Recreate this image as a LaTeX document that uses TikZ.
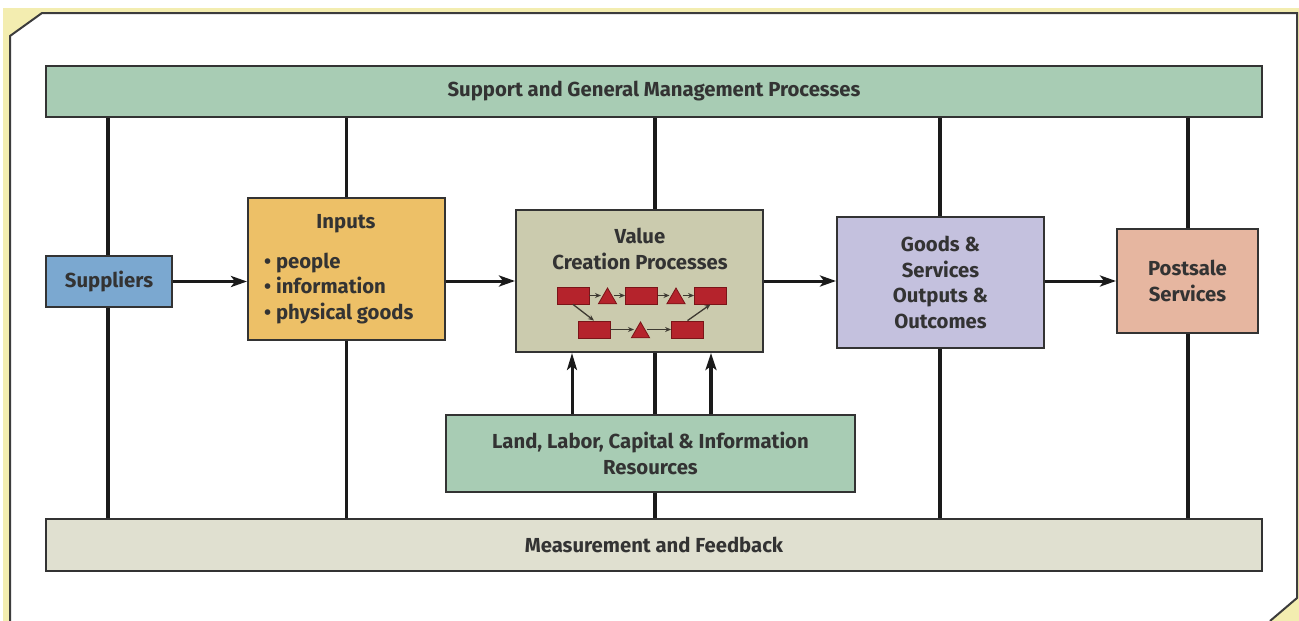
\documentclass[tikz,border=0pt]{standalone}
\usepackage{fontspec}
\setmainfont{Fira Sans}
\usetikzlibrary{arrows.meta,shapes.geometric}
\definecolor{yellowbg}{HTML}{F3EDB0}
\definecolor{framec}{HTML}{3C3C3C}
\definecolor{bordc}{HTML}{333333}
\definecolor{txt}{HTML}{333333}
\definecolor{topg}{HTML}{A8CCB4}
\definecolor{botc}{HTML}{E0E0D0}
\definecolor{supc}{HTML}{7BA8D0}
\definecolor{inpc}{HTML}{EDC067}
\definecolor{valc}{HTML}{CBCBAE}
\definecolor{goodc}{HTML}{C4C1DE}
\definecolor{postc}{HTML}{E6B6A0}
\definecolor{redf}{HTML}{B5232C}
\definecolor{redd}{HTML}{7A1418}
\definecolor{linec}{HTML}{1A1A1A}
\definecolor{minic}{HTML}{3E3A32}
\tikzset{
  box/.style={draw=bordc, line width=2pt, inner sep=0pt, text=txt, align=center,
    font=\bfseries\fontsize{20.3}{25.5}\selectfont},
  lbl/.style={inner sep=0pt, text=txt, font=\bfseries\fontsize{20.3}{25.5}\selectfont},
  vthick/.style={draw=linec, line width=4pt},
  vthin/.style={draw=linec, line width=3pt},
  flow/.style={draw=linec, line width=3pt, -{Stealth[length=16pt,width=11pt,inset=4pt]}},
  upthin/.style={draw=linec, line width=3pt, -{Stealth[length=17pt,width=10pt,inset=4pt]}},
  upthick/.style={draw=linec, line width=4pt, -{Stealth[length=17pt,width=11pt,inset=4pt]}},
  rbox/.style={fill=redf, draw=redd, line width=0.8pt, minimum width=32pt, minimum height=17pt, inner sep=0pt},
  rtri/.style={regular polygon, regular polygon sides=3, fill=redf, draw=redd, line width=0.8pt, minimum size=21pt, inner sep=0pt},
  mini/.style={draw=minic, line width=1.3pt, -{Stealth[length=6pt,width=5pt]}}
}
\begin{document}
\begin{tikzpicture}[x=1pt,y=-1pt]
\useasboundingbox (0,0) rectangle (1299,621);
% page frame
\fill[yellowbg] (3,8) rectangle (1299,621);
\fill[white] (10,621) -- (10,36) -- (42,13) -- (1297,13) -- (1297,598) -- (1270,621) -- cycle;
\draw[framec, line width=2pt, line join=miter] (10,621) -- (10,36) -- (42,13) -- (1297,13) -- (1297,598) -- (1270,621);

% bars and boxes
\node[box, fill=topg, minimum width=1216pt, minimum height=51pt] (top) at (654,91.5) {Support and General Management Processes};
\node[box, fill=botc, minimum width=1216pt, minimum height=52pt] (bot) at (654,545) {Measurement and Feedback};
\node[box, fill=supc, minimum width=126pt, minimum height=51pt] (sup) at (109,281.5) {Suppliers};
\node[box, fill=inpc, minimum width=197pt, minimum height=142pt] (inp) at (346.5,269) {};
\node[box, fill=valc, minimum width=247pt, minimum height=142pt] (val) at (639.5,281) {};
\node[box, fill=goodc, minimum width=207pt, minimum height=131pt] (goods) at (940.5,282.5) {Goods \&\\Services\\Outputs \&\\Outcomes};
\node[box, fill=postc, minimum width=141pt, minimum height=104pt] (post) at (1187.5,281) {Postsale\\Services};
\node[box, fill=topg, minimum width=409pt, minimum height=77pt] (land) at (650.5,453.5) {Land, Labor, Capital \& Information\\Resources};

% texts inside inputs and value boxes
\node[lbl] (inpT) at (346,224) {Inputs};
\node[lbl, align=left, anchor=west] (inpL) at (264,288.5) {• people\\• information\\• physical goods};
\node[lbl, align=center] (valT) at (640,249) {Value\\Creation Processes};

% mini process diagram
\node[rbox] (r1) at (573,295.5) {};
\node[rtri] (t1) at (607.5,298.5) {};
\node[rbox] (r2) at (641.5,295.5) {};
\node[rtri] (t2) at (676,298.5) {};
\node[rbox] (r3) at (710.5,295.5) {};
\node[rbox] (b1) at (594,329.5) {};
\node[rtri] (tb) at (640.5,332.5) {};
\node[rbox] (b2) at (687.5,329.5) {};
\draw[mini] (r1.east) -- (r1.east -| t1.west);
\draw[mini] (t1.east |- r1.east) -- (r2.west);
\draw[mini] (r2.east) -- (r2.east -| t2.west);
\draw[mini] (t2.east |- r2.east) -- (r3.west);
\draw[mini] (b1.east) -- (b1.east -| tb.west);
\draw[mini] (tb.east |- b1.east) -- (b2.west);
\draw[mini] (r1.south) -- (b1.north);
\draw[mini] (b2.north) -- (r3.south);

% vertical connectors
\coordinate (c1) at (108,0);
\coordinate (c2) at (346,0);
\coordinate (c3) at (655,0);
\coordinate (c4) at (940,0);
\coordinate (c5) at (1188,0);
\coordinate (ua) at (572,0);
\coordinate (ub) at (711,0);
\draw[vthick, line width=4.5pt] (top.south -| c1) -- (sup.north -| c1);
\draw[vthick, line width=4.5pt] (sup.south -| c1) -- (bot.north -| c1);
\draw[vthin] (top.south -| c2) -- (inp.north -| c2);
\draw[vthin] (inp.south -| c2) -- (bot.north -| c2);
\draw[vthick] (top.south -| c3) -- (val.north -| c3);
\draw[vthick] (val.south -| c3) -- (land.north -| c3);
\draw[vthick] (land.south -| c3) -- (bot.north -| c3);
\draw[vthick] (top.south -| c4) -- (goods.north -| c4);
\draw[vthick] (goods.south -| c4) -- (bot.north -| c4);
\draw[vthick] (top.south -| c5) -- (post.north -| c5);
\draw[vthick] (post.south -| c5) -- (bot.north -| c5);
\draw[upthin] (land.north -| ua) -- (val.south -| ua);
\draw[upthick] (land.north -| ub) -- (val.south -| ub);

% horizontal flow
\draw[flow] (sup.east) -- (inp.west |- sup.east);
\draw[flow] (inp.east |- val.west) -- (val.west);
\draw[flow] (val.east) -- (goods.west |- val.east);
\draw[flow] (goods.east |- post.west) -- (post.west);
\end{tikzpicture}
\end{document}
